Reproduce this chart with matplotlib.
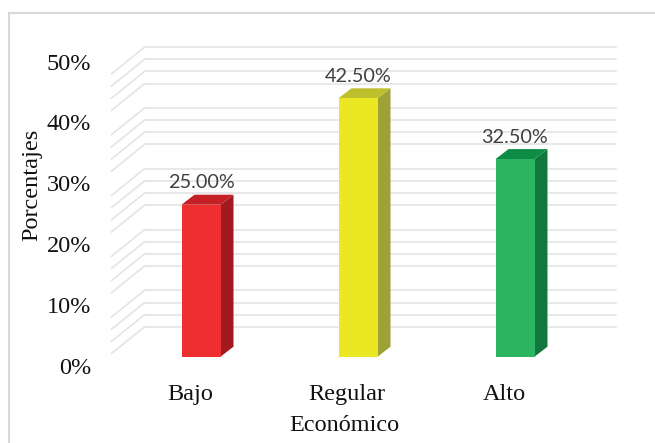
import matplotlib
matplotlib.use("Agg")
import matplotlib.pyplot as plt
from matplotlib.patches import Polygon
from matplotlib.lines import Line2D
import numpy as np

# ---- data -------------------------------------------------------------
categories = ["Bajo", "Regular", "Alto"]
percentages = [25.00, 42.50, 32.50]
y_ticks = [0, 10, 20, 30, 40, 50]
minor_grid = [v for v in range(0, 51, 2) if v % 10 != 0]

front_colors = ["#EE2E2F", "#EBE823", "#2DB461"]
top_colors = ["#C41F25", "#BDBF2C", "#0E8C45"]
side_colors = ["#A11A20", "#9EA236", "#12763F"]
grid_color = "#E4E4E4"

# ---- figure / axes (axis plane = front edge of the floor) ---------------
W, H, DPI = 655, 443, 100
fig = plt.figure(figsize=(W / DPI, H / DPI), dpi=DPI)
fig.patch.set_facecolor("white")
ax = fig.add_axes([111.5 / W, (H - 365.7) / H, 471 / W, 304 / H])
ax.set_xlim(-0.5, 2.5)
ax.set_ylim(0, 50)
ax.set_facecolor("none")
for s in ax.spines.values():
    s.set_visible(False)

# pixel -> data conversion for the oblique depth offsets
ppx = ax.bbox.width / 3.0
ppy = ax.bbox.height / 50.0


def off(dx_px, dy_px):
    return dx_px / ppx, dy_px / ppy


# depth offsets (pixels) of the different planes from the axis plane
wall_dx, wall_dy = off(33, 26.7)
bar_dx, bar_dy = off(11, 9)
depth_dx, depth_dy = off(13, 10)
bar_w = 39 / ppx

# ---- walls: back wall lines and side wall diagonals ----------------------
for v in minor_grid:
    ax.add_line(Line2D([-0.5 + wall_dx, 2.5 + wall_dx], [v + wall_dy, v + wall_dy],
                       color=grid_color, lw=1.2, clip_on=False, zorder=1))
    ax.add_line(Line2D([-0.5, -0.5 + wall_dx], [v, v + wall_dy],
                       color=grid_color, lw=1.2, clip_on=False, zorder=1))

# ---- 3D columns ----------------------------------------------------------
x = np.arange(len(categories))
xf = x + bar_dx
for xi, v, fc, tc, sc in zip(xf, percentages, front_colors, top_colors, side_colors):
    l, r = xi - bar_w / 2, xi + bar_w / 2
    b, t = bar_dy, v + bar_dy
    side = Polygon([(r, b), (r + depth_dx, b + depth_dy), (r + depth_dx, t + depth_dy), (r, t)],
                   closed=True, facecolor=sc, edgecolor="none", clip_on=False, zorder=3)
    top = Polygon([(l, t), (r, t), (r + depth_dx, t + depth_dy), (l + depth_dx, t + depth_dy)],
                  closed=True, facecolor=tc, edgecolor="none", clip_on=False, zorder=3)
    ax.add_patch(side)
    ax.add_patch(top)

ax.bar(xf, percentages, width=bar_w, bottom=bar_dy, color=front_colors,
       zorder=4, clip_on=False)

for xi, v in zip(xf, percentages):
    ax.annotate(f"{v:.2f}%", (xi, v + bar_dy), xytext=(0, 11.7), textcoords="offset points",
                ha="center", va="baseline", fontfamily="Lato", fontsize=14.3,
                color="#404040", zorder=5, annotation_clip=False)

# ---- axes text -----------------------------------------------------------
serif = "Liberation Serif"
ax.set_yticks(y_ticks, [f"{t}%" for t in y_ticks])
ax.set_xticks(x, categories)
ax.tick_params(axis="y", length=0, pad=14.8, labelsize=17.5, labelcolor="#111111")
ax.tick_params(axis="x", length=0, pad=13.5, labelsize=17.5, labelcolor="#111111")
for lab in ax.get_yticklabels() + ax.get_xticklabels():
    lab.set_fontfamily(serif)

ax.set_xlabel("Económico", fontfamily=serif, fontsize=17.5, color="#111111")
ax.xaxis.set_label_coords(0.494, -0.163)
ax.set_ylabel("Porcentajes", fontfamily=serif, fontsize=17.5, color="#111111",
              va="center", ha="center")
ax.yaxis.set_label_coords(-0.17, 0.595)

# ---- chart area border ---------------------------------------------------
border = "#D9D9D9"
fig.add_artist(Line2D([9 / W, 9 / W], [0, 1 - 13 / H], transform=fig.transFigure,
                      color=border, lw=1.5))
fig.add_artist(Line2D([9 / W, 1], [1 - 13 / H, 1 - 13 / H], transform=fig.transFigure,
                      color=border, lw=1.5))

fig.savefig("out.png", dpi=DPI)
